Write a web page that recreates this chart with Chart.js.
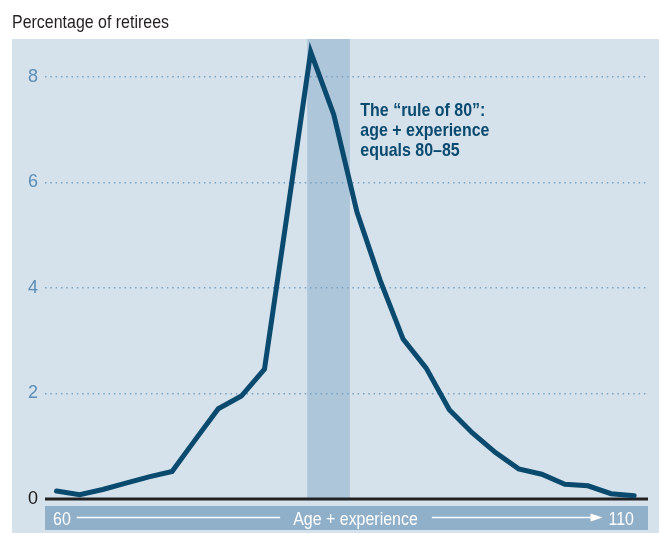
<!DOCTYPE html>
<html>
<head>
<meta charset="utf-8">
<script src="https://cdn.jsdelivr.net/npm/chart.js@4.4.0/dist/chart.umd.min.js"></script>
<style>
  body { margin: 0; background: #fff; }
  #wrap { position: relative; width: 659px; height: 533px; }
</style>
</head>
<body>
<div id="wrap"><canvas id="retireChart" width="659" height="533"></canvas></div>
<script>
// age + experience (2-year steps) and share of retirees
const ageExperience = [60, 62, 64, 66, 68, 70, 72, 74, 76, 78, 80, 82, 84, 86, 88, 90, 92, 94, 96, 98, 100, 102, 104, 106, 108, 110];
const retireesPct = [0.15, 0.08, 0.18, 0.30, 0.42, 0.52, 1.12, 1.71, 1.95, 2.46, 5.45, 8.47, 7.28, 5.44, 4.15, 3.03, 2.48, 1.69, 1.25, 0.88, 0.57, 0.47, 0.28, 0.25, 0.10, 0.06];
const yTicks = [0, 2, 4, 6, 8];
const axisLabels = ['60', 'Age + experience', '110'];
const bandRange = [81.7, 85.4];
const noteLines = ['The \u201crule of 80\u201d:', 'age + experience', 'equals 80\u201385'];
const noteAt = [86.3, 7.26];
const chartTitle = 'Percentage of retirees';

const FONT = "'Liberation Sans', Arial, sans-serif";
const NAVY = '#0b4a6f';
const SQUEEZE = 0.84; // no condensed face installed, so narrow the text by hand

// draws text squeezed horizontally, returns drawn width
function narrowText(ctx, text, x, y, align) {
    const w = ctx.measureText(text).width * SQUEEZE;
    let left = x;
    if (align === 'right') left = x - w;
    if (align === 'center') left = x - w / 2;
    ctx.save();
    ctx.translate(left, y);
    ctx.scale(SQUEEZE, 1);
    ctx.textAlign = 'left';
    ctx.fillText(text, 0, 0);
    ctx.restore();
    return w;
}

const decor = {
    id: 'decor',
    beforeDraw(chart) {
        const ctx = chart.ctx;
        const area = chart.chartArea;
        const x = chart.scales.x;
        ctx.save();
        // panel
        ctx.fillStyle = '#d5e2ec';
        ctx.fillRect(12, 39, chart.width - 12, chart.height - 39);
        // highlighted band
        ctx.fillStyle = '#aec6da';
        const b0 = x.getPixelForValue(bandRange[0]);
        const b1 = x.getPixelForValue(bandRange[1]);
        ctx.fillRect(b0, 39, b1 - b0, area.bottom - 39);
        // title
        ctx.fillStyle = '#231f20';
        ctx.font = '19px ' + FONT;
        ctx.textBaseline = 'alphabetic';
        narrowText(ctx, chartTitle, 12, 28, 'left');
        ctx.restore();
    },
    beforeDatasetsDraw(chart) {
        const ctx = chart.ctx;
        const area = chart.chartArea;
        const y0 = chart.scales.y.getPixelForValue(0);
        ctx.save();
        ctx.strokeStyle = '#222';
        ctx.lineWidth = 3;
        ctx.beginPath();
        ctx.moveTo(area.left, y0);
        ctx.lineTo(area.right, y0);
        ctx.stroke();

        // axis bar
        const top = area.bottom + 7;
        const h = 24;
        ctx.fillStyle = '#90b0ca';
        ctx.fillRect(area.left, top, area.right - area.left, h);
        ctx.fillStyle = '#fff';
        ctx.strokeStyle = '#fff';
        ctx.font = '19px ' + FONT;
        ctx.textBaseline = 'alphabetic';
        const base = top + 18.5;
        const midY = top + 11.5;
        const lx = area.left + 8;
        const w0 = narrowText(ctx, axisLabels[0], lx, base, 'left');
        const rx = area.right - 14;
        const w2 = narrowText(ctx, axisLabels[2], rx, base, 'right');
        const cx = (area.left + area.right) / 2 + 9;
        const w1 = narrowText(ctx, axisLabels[1], cx, base, 'center');

        ctx.lineWidth = 1.5;
        ctx.beginPath();
        ctx.moveTo(lx + w0 + 6, midY);
        ctx.lineTo(cx - w1 / 2 - 13, midY);
        ctx.moveTo(cx + w1 / 2 + 14, midY);
        const tipX = rx - w2 - 6;
        ctx.lineTo(tipX - 10, midY);
        ctx.stroke();
        ctx.beginPath();
        ctx.moveTo(tipX, midY);
        ctx.lineTo(tipX - 12, midY - 4);
        ctx.lineTo(tipX - 12, midY + 4);
        ctx.closePath();
        ctx.fill();
        ctx.restore();
    },
    afterDatasetsDraw(chart) {
        const ctx = chart.ctx;
        const nx = chart.scales.x.getPixelForValue(noteAt[0]);
        const ny = chart.scales.y.getPixelForValue(noteAt[1]);
        ctx.save();
        ctx.fillStyle = NAVY;
        ctx.font = 'bold 19px ' + FONT;
        ctx.textBaseline = 'alphabetic';
        noteLines.forEach((line, i) => {
            narrowText(ctx, line, nx, ny + i * 20, 'left');
        });
        ctx.restore();
    }
};

const ctx = document.getElementById('retireChart').getContext('2d');
new Chart(ctx, {
    type: 'line',
    data: {
        datasets: [{
            data: ageExperience.map((a, i) => ({ x: a, y: retireesPct[i] })),
            borderColor: NAVY,
            borderWidth: 5,
            pointRadius: 0,
            fill: false,
            tension: 0,
            borderJoinStyle: 'miter',
            borderCapStyle: 'round',
            clip: false
        }]
    },
    options: {
        responsive: false,
        animation: false,
        devicePixelRatio: 1,
        layout: { padding: { top: 45, bottom: 34, right: 11, left: 0 } },
        plugins: {
            legend: { display: false },
            tooltip: { enabled: false },
            title: { display: false }
        },
        scales: {
            x: {
                type: 'linear',
                min: 59,
                max: 111.2,
                display: false
            },
            y: {
                min: 0,
                max: 8.6,
                afterBuildTicks: scale => { scale.ticks = yTicks.map(v => ({ value: v })); },
                afterFit: scale => { scale.width = 45; },
                border: { display: false, dash: [1.5, 3.8] },
                grid: {
                    drawTicks: false,
                    color: c => c.tick && c.tick.value === 0 ? 'rgba(0,0,0,0)' : '#7aa3c4',
                    lineWidth: 1.5
                },
                ticks: {
                    padding: 7,
                    color: c => c.tick && c.tick.value === 0 ? '#1a1a1a' : '#5b8db6',
                    font: { family: FONT, size: 18 }
                }
            }
        }
    },
    plugins: [decor]
});
</script>
</body>
</html>
